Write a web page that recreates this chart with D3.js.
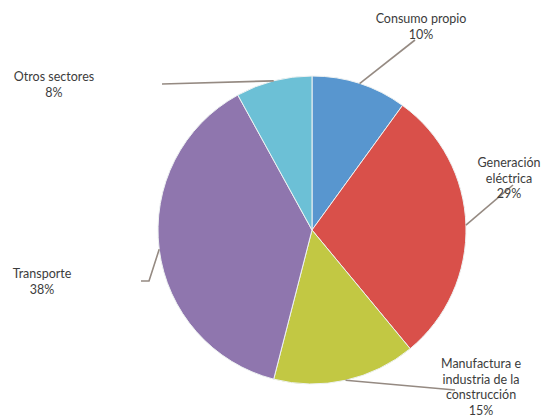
<!DOCTYPE html>
<html>
<head>
<meta charset="utf-8">
<script src="https://cdn.jsdelivr.net/npm/d3@7"></script>
<style>
  html, body { margin: 0; padding: 0; background: #ffffff; }
  svg { display: block; }
</style>
</head>
<body>
<svg id="chart" width="544" height="416"></svg>
<script>
// ---- data ----
const categories = ["Consumo propio", "Generación eléctrica", "Manufactura e industria de la construcción", "Transporte", "Otros sectores"];
const values = [10, 29, 15, 38, 8];
const labelLines = [
  ["Consumo propio", "10%"],
  ["Generación", "eléctrica", "29%"],
  ["Manufactura e", "industria de la", "construcción", "15%"],
  ["Transporte", "38%"],
  ["Otros sectores", "8%"]
];
const colors = ["#5896cf", "#d9504a", "#c2c843", "#8f76ae", "#6cc0d6"];

// ---- layout (label anchors & leader-line ends, not data) ----
const cx = 312, cy = 230, R = 154;
const labelLayout = [
  { x: 421, y: 23, lineEnd: [[415, 40]], startAngleFrac: 0.5 },
  { x: 509, y: 167, lineEnd: [[513, 185]], startAngleFrac: 0.5 },
  { x: 481, y: 368, lineEnd: [[455, 390]], startAngleFrac: 0.5 },
  { x: 42, y: 278, lineEnd: [[149, 281], [141, 281]], startAngleFrac: 0.5 },
  { x: 54, y: 81, lineEnd: [[162, 84]], startAngleFrac: 0.5 }
];

const svg = d3.select("#chart");
const g = svg.append("g").attr("transform", `translate(${cx},${cy})`);

const pie = d3.pie().sort(null).value(d => d)(values);
const arc = d3.arc().innerRadius(0).outerRadius(R);

g.selectAll("path.slice")
  .data(pie)
  .join("path")
  .attr("class", "slice")
  .attr("d", arc)
  .attr("fill", (d, i) => colors[i])
  .attr("stroke", "#eef2f2")
  .attr("stroke-width", 1);

// leader lines
const line = d3.line();
pie.forEach((d, i) => {
  const a = d.startAngle + (d.endAngle - d.startAngle) * labelLayout[i].startAngleFrac;
  const sx = cx + R * Math.sin(a), sy = cy - R * Math.cos(a);
  const pts = [[sx, sy]].concat(labelLayout[i].lineEnd);
  svg.append("path")
    .attr("d", line(pts))
    .attr("fill", "none")
    .attr("stroke", "#958a82")
    .attr("stroke-width", 1.6);
});

// labels
labelLayout.forEach((L, i) => {
  const t = svg.append("text")
    .attr("x", L.x).attr("y", L.y)
    .attr("text-anchor", "middle")
    .attr("font-family", "Lato, 'Open Sans', sans-serif")
    .attr("font-size", 12.5)
    .attr("fill", "#3c3c3c");
  labelLines[i].forEach((s, j) => {
    t.append("tspan").attr("x", L.x).attr("dy", j === 0 ? 0 : 15.5).text(s);
  });
});
</script>
</body>
</html>
